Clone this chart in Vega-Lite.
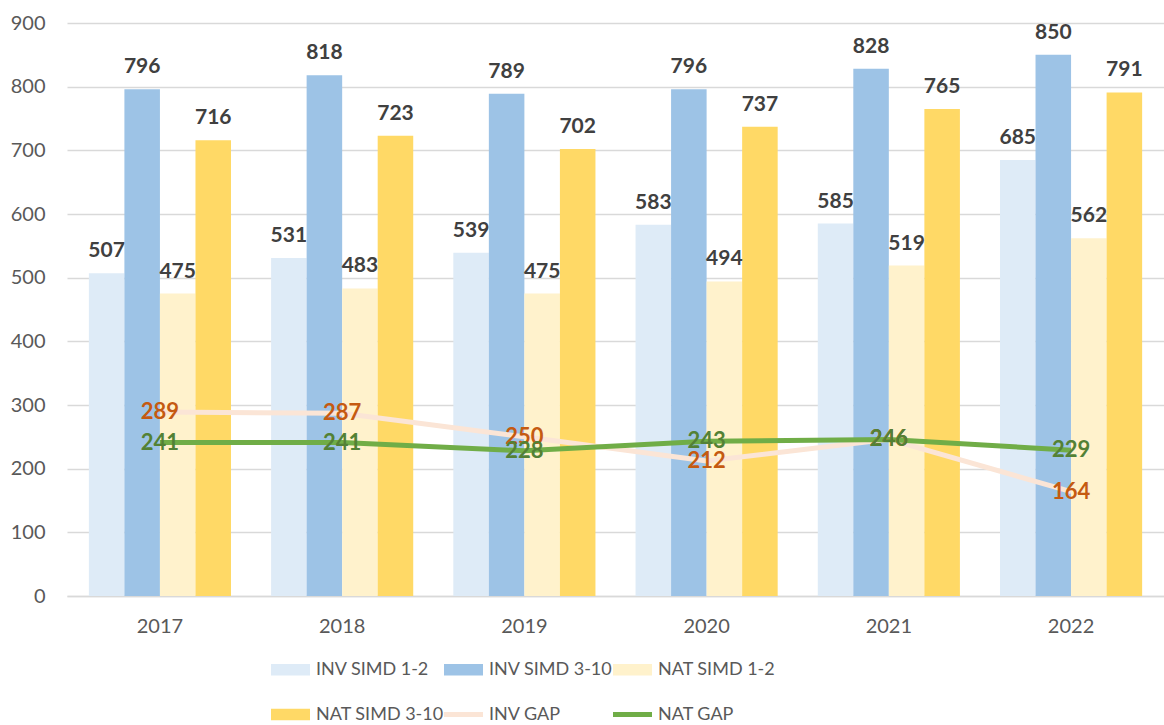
{
  "$schema": "https://vega.github.io/schema/vega-lite/v6.json",
  "width": 1097,
  "height": 573,
  "autosize": {"type": "none"},
  "padding": {"left": 67, "top": 23, "right": 0, "bottom": 129},
  "background": "white",
  "config": {
    "font": "Lato",
    "view": {"stroke": null},
    "axis": {"labelFont": "Lato", "labelColor": "#595959", "labelFontSize": 20}
  },
  "data": {
    "values": [
      {"year": "2017", "series": "INV SIMD 1-2", "value": 507},
      {"year": "2018", "series": "INV SIMD 1-2", "value": 531},
      {"year": "2019", "series": "INV SIMD 1-2", "value": 539},
      {"year": "2020", "series": "INV SIMD 1-2", "value": 583},
      {"year": "2021", "series": "INV SIMD 1-2", "value": 585},
      {"year": "2022", "series": "INV SIMD 1-2", "value": 685},
      {"year": "2017", "series": "INV SIMD 3-10", "value": 796},
      {"year": "2018", "series": "INV SIMD 3-10", "value": 818},
      {"year": "2019", "series": "INV SIMD 3-10", "value": 789},
      {"year": "2020", "series": "INV SIMD 3-10", "value": 796},
      {"year": "2021", "series": "INV SIMD 3-10", "value": 828},
      {"year": "2022", "series": "INV SIMD 3-10", "value": 850},
      {"year": "2017", "series": "NAT SIMD 1-2", "value": 475},
      {"year": "2018", "series": "NAT SIMD 1-2", "value": 483},
      {"year": "2019", "series": "NAT SIMD 1-2", "value": 475},
      {"year": "2020", "series": "NAT SIMD 1-2", "value": 494},
      {"year": "2021", "series": "NAT SIMD 1-2", "value": 519},
      {"year": "2022", "series": "NAT SIMD 1-2", "value": 562},
      {"year": "2017", "series": "NAT SIMD 3-10", "value": 716},
      {"year": "2018", "series": "NAT SIMD 3-10", "value": 723},
      {"year": "2019", "series": "NAT SIMD 3-10", "value": 702},
      {"year": "2020", "series": "NAT SIMD 3-10", "value": 737},
      {"year": "2021", "series": "NAT SIMD 3-10", "value": 765},
      {"year": "2022", "series": "NAT SIMD 3-10", "value": 791},
      {"year": "2017", "series": "INV GAP", "value": 289},
      {"year": "2018", "series": "INV GAP", "value": 287},
      {"year": "2019", "series": "INV GAP", "value": 250},
      {"year": "2020", "series": "INV GAP", "value": 212},
      {"year": "2021", "series": "INV GAP", "value": 246},
      {"year": "2022", "series": "INV GAP", "value": 164},
      {"year": "2017", "series": "NAT GAP", "value": 241},
      {"year": "2018", "series": "NAT GAP", "value": 241},
      {"year": "2019", "series": "NAT GAP", "value": 228},
      {"year": "2020", "series": "NAT GAP", "value": 243},
      {"year": "2021", "series": "NAT GAP", "value": 246},
      {"year": "2022", "series": "NAT GAP", "value": 229}
    ]
  },
  "encoding": {
    "x": {
      "field": "year", "type": "ordinal",
      "scale": {"paddingInner": 0.22, "paddingOuter": 0.12},
      "axis": {"title": null, "labelAngle": 0, "ticks": false, "domainColor": "#D9D9D9", "domainWidth": 1.5, "labelPadding": 20}
    },
    "y": {
      "field": "value", "type": "quantitative",
      "scale": {"domain": [0, 900], "nice": false},
      "axis": {"title": null, "values": [0,100,200,300,400,500,600,700,800,900], "domain": false, "ticks": false, "gridColor": "#D9D9D9", "gridWidth": 1.5, "labelPadding": 22}
    }
  },
  "layer": [
    {
      "transform": [{"filter": "datum.series !== 'INV GAP' && datum.series !== 'NAT GAP'"}],
      "mark": {"type": "bar"},
      "encoding": {
        "xOffset": {"field": "series", "type": "nominal", "sort": ["INV SIMD 1-2", "INV SIMD 3-10", "NAT SIMD 1-2", "NAT SIMD 3-10"], "scale": {"paddingInner": 0, "paddingOuter": 0}},
        "color": {
          "field": "series", "type": "nominal",
          "scale": {
            "domain": ["INV SIMD 1-2", "INV SIMD 3-10", "NAT SIMD 1-2", "NAT SIMD 3-10", "INV GAP", "NAT GAP"],
            "range": ["#DEEBF7", "#9DC3E6", "#FFF2CC", "#FFD966", "#FBE5D6", "#70AD47"]
          },
          "legend": {
            "title": null,
            "orient": "none",
            "legendX": 204,
            "legendY": 627,
            "direction": "horizontal",
            "columns": 3,
            "labelFont": "Lato",
            "labelFontSize": 18,
            "labelColor": "#595959",
            "labelOffset": 6,
            "columnPadding": -22,
            "rowPadding": 16,
            "symbolSize": 1521,
            "symbolStrokeWidth": 0,
            "symbolType": "M-1,-0.3H1V0.3H-1Z",
            "symbolOpacity": 1,
            "encode": {
              "symbols": {
                "update": {
                  "shape": {"signal": "(datum.value === 'INV GAP' || datum.value === 'NAT GAP') ? 'M-1,-0.13H1V0.13H-1Z' : 'M-1,-0.3H1V0.3H-1Z'"},
                  "fill": {"scale": "color", "field": "value"},
                  "strokeWidth": {"value": 0},
                  "opacity": {"value": 1}
                }
              }
            }
          }
        }
      }
    },
    {
      "transform": [{"filter": "datum.series !== 'INV GAP' && datum.series !== 'NAT GAP'"}],
      "mark": {"type": "text", "baseline": "bottom", "dy": -12, "fontSize": 21, "fontWeight": "bold", "color": "#404040", "font": "Lato"},
      "encoding": {
        "xOffset": {"field": "series", "type": "nominal", "sort": ["INV SIMD 1-2", "INV SIMD 3-10", "NAT SIMD 1-2", "NAT SIMD 3-10"], "scale": {"paddingInner": 0, "paddingOuter": 0}},
        "text": {"field": "value", "type": "quantitative"}
      }
    },
    {
      "transform": [{"filter": "datum.series === 'INV GAP'"}],
      "mark": {"type": "line", "strokeWidth": 5, "color": "#FBE5D6"},
      "encoding": {"color": {"field": "series", "type": "nominal"}}
    },
    {
      "transform": [{"filter": "datum.series === 'NAT GAP'"}],
      "mark": {"type": "line", "strokeWidth": 5, "color": "#70AD47"},
      "encoding": {"color": {"field": "series", "type": "nominal"}}
    },
    {
      "transform": [{"filter": "datum.series === 'INV GAP'"}],
      "mark": {"type": "text", "baseline": "middle", "fontSize": 22, "fontWeight": "bold", "color": "#C55A11", "font": "Lato"},
      "encoding": {"text": {"field": "value", "type": "quantitative"}}
    },
    {
      "transform": [{"filter": "datum.series === 'NAT GAP'"}],
      "mark": {"type": "text", "baseline": "middle", "fontSize": 22, "fontWeight": "bold", "color": "#538135", "font": "Lato"},
      "encoding": {"text": {"field": "value", "type": "quantitative"}}
    }
  ]
}
